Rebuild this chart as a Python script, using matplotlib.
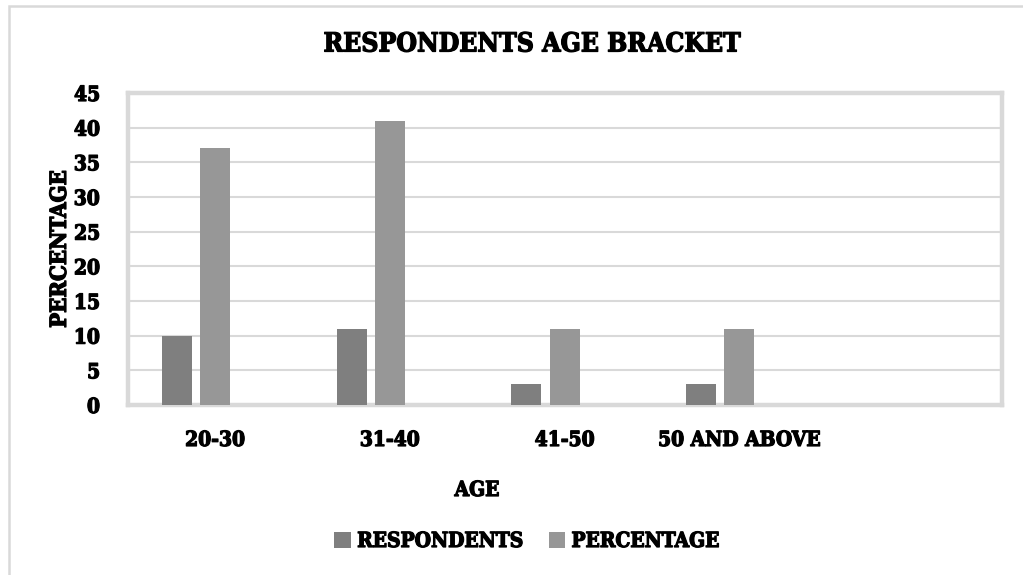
import numpy as np
import matplotlib
matplotlib.use('Agg')
import matplotlib.pyplot as plt
import matplotlib.patheffects as pe
from matplotlib.patches import Rectangle

# age brackets (last slot is left blank, as in the source sheet)
categories = ['20-30', '31-40', '41-50', '50 AND ABOVE', '']
respondents = [10, 11, 3, 3, 0]
percentage = [37, 41, 11, 11, 0]
yticks = [0, 5, 10, 15, 20, 25, 30, 35, 40, 45]

plt.rcParams['font.family'] = ['DejaVu Serif']
plt.rcParams['font.weight'] = 'bold'
plt.rcParams['font.stretch'] = 'condensed'
# heavier strokes for all the lettering
heavy = [pe.withStroke(linewidth=0.9, foreground='black')]

fig = plt.figure(figsize=(10.23, 5.75), dpi=100)
ax = fig.add_axes([0.125, 0.2957, 0.854, 0.5426])

# outer chart border (only top and left are visible)
fig.patches.append(Rectangle((0.0085, -0.05), 1.1, 1.04, transform=fig.transFigure,
                             fill=False, ec='#d9d9d9', lw=1.8))

x = np.arange(len(categories))
w = 0.172
step = 0.22
ax.bar(x - step, respondents, w, color='#7f7f7f', label='RESPONDENTS', zorder=3)
ax.bar(x, percentage, w, color='#979797', label='PERCENTAGE', zorder=3)

ax.set_xlim(-0.5, len(categories) - 0.5)
ax.set_ylim(0, 45)
ax.set_yticks(yticks)
ax.set_yticklabels([str(t) for t in yticks], fontsize=15)
ax.set_xticks(x)
ax.set_xticklabels(categories, fontsize=15)
ax.tick_params(length=0)
ax.tick_params(axis='x', pad=18)
ax.tick_params(axis='y', pad=20)
for t in ax.get_xticklabels() + ax.get_yticklabels():
    t.set_path_effects(heavy)

ax.grid(axis='y', color='#d9d9d9', lw=1.5, zorder=0)
for s in ax.spines.values():
    s.set_color('#d9d9d9')
    s.set_linewidth(3.2)

ax.set_ylabel('PERCENTAGE', fontsize=16, fontweight='bold', labelpad=2,
              path_effects=heavy)
fig.text(477 / 1023, 1 - 490 / 575, 'AGE', fontsize=15, ha='center', va='center',
         path_effects=heavy)
fig.text(532 / 1023, 1 - 44 / 575, 'RESPONDENTS AGE BRACKET', fontsize=19,
         ha='center', va='center', path_effects=heavy)

leg = fig.legend(loc='center', bbox_to_anchor=(527 / 1023, 1 - 541 / 575), ncol=2,
                 frameon=False, fontsize=15, handlelength=0.8, handleheight=0.8,
                 handletextpad=0.3, columnspacing=1.2)
for t in leg.get_texts():
    t.set_path_effects(heavy)

fig.savefig('out.png', dpi=100)
